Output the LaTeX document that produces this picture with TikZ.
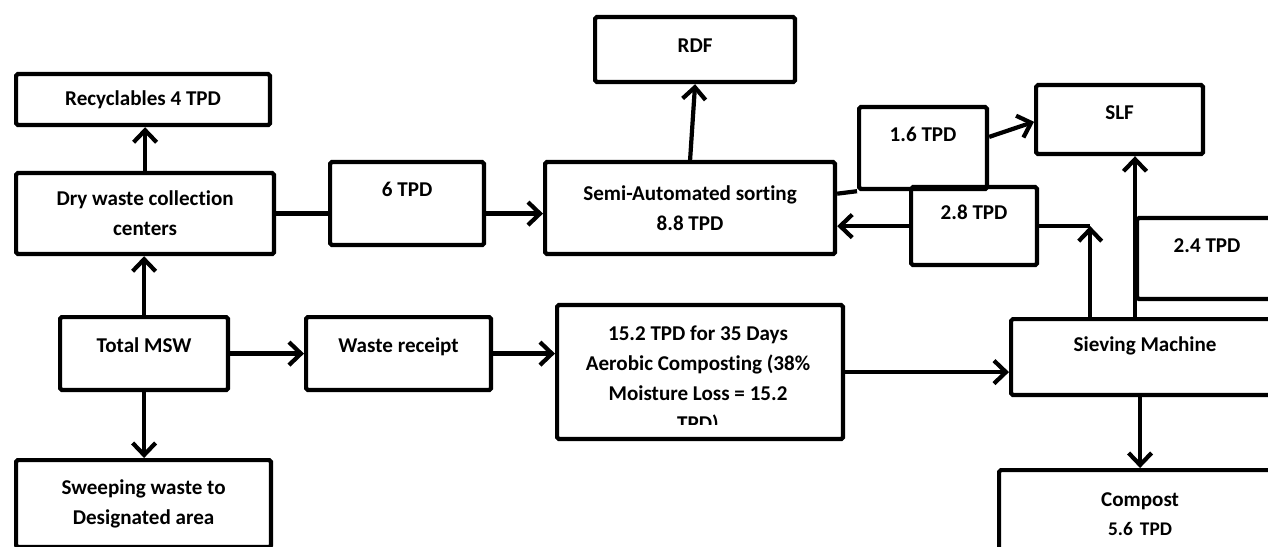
\documentclass[tikz,border=0pt]{standalone}
\usepackage{fontspec}
\setmainfont{Carlito}[Ligatures=NoCommon]
\usetikzlibrary{arrows.meta,calc}

\tikzset{
  box/.style={draw, line width=2.4pt, rounded corners=1pt, inner sep=0pt,
    anchor=north west, align=center, font=\fontsize{12}{17}\selectfont\bfseries},
  arr/.style={line width=2.4pt, -{Straight Barb[length=0.24cm,width=0.46cm]}},
  link/.style={line width=2.4pt}
}

\begin{document}
\begin{tikzpicture}[x=0.02cm,y=-0.02cm]
\clip (0,0) rectangle (1268,547);
% left column
\node[box, minimum width=5.08cm, minimum height=1.02cm] (rec) at (14,72) {Recyclables 4 TPD};
\node[box, minimum width=5.16cm, minimum height=1.62cm] (dry) at (14,171) {Dry waste collection\\centers};
\node[box, minimum width=3.36cm, text height=0.70cm, text depth=0.76cm] (tot) at (58,315) {Total MSW};
\node[box, minimum width=5.10cm, minimum height=1.74cm] (sweep) at (14,458) {Sweeping waste to\\Designated area};

% middle
\node[box, minimum width=3.08cm, text height=0.68cm, text depth=0.98cm] (six) at (328,160) {6 TPD};
\node[box, minimum width=3.70cm, text height=0.70cm, text depth=0.76cm] (wr) at (304,315) {Waste receipt};
\node[box, minimum width=5.8cm, minimum height=1.84cm] (semi) at (543,160) {Semi-Automated sorting\\8.8 TPD};
\node[box, minimum width=4cm, text height=0.70cm, text depth=0.60cm] (rdf) at (593,15) {RDF};
\node[box, minimum width=5.72cm, minimum height=2.68cm] (comp15) at (555,303) {};
\begin{scope}
\clip (560,308) rectangle (836,424);
\node[box, draw=none, anchor=north] (comp15txt) at (698,324) {15.2 TPD for 35 Days\\Aerobic Composting (38\%\\Moisture Loss = 15.2\\TPD)};
\end{scope}

% right
\node[box, minimum width=2.56cm, text height=0.68cm, text depth=0.96cm] (one6) at (857,105) {1.6 TPD};
\node[box, minimum width=3.34cm, text height=0.68cm, text depth=0.70cm] (slf) at (1034,83) {SLF};
\node[box, minimum width=2.52cm, text height=0.64cm, text depth=0.92cm] (two8) at (909,185) {2.8 TPD};
\node[box, minimum width=2.80cm, text height=0.68cm, text depth=0.94cm] (two4) at (1135,216) {2.4 TPD};
\node[box, minimum width=5.36cm, text height=0.64cm, text depth=0.88cm] (sieve) at (1009,317) {Sieving Machine};
\node[box, text width=5.64cm, text height=0.72cm, text depth=1.28cm] (compost) at (997,468) {Compost\\{\fontsize{11}{16}\selectfont 5.6 TPD}};

% connectors
\draw[arr] (dry.north) -- (dry.north |- rec.south);
\draw[arr] (tot.north) -- (tot.north |- dry.south);
\draw[arr] (tot.south) -- (tot.south |- sweep.north);
\draw[arr] (tot.east) -- (tot.east -| wr.west);
\draw[arr] (wr.east) -- (wr.east -| comp15.west);
\draw[arr] (comp15.east) -- (comp15.east -| sieve.west);
\draw[arr] (compost.north |- sieve.south) -- (compost.north);
\draw[link] (dry.east) -- (dry.east -| six.west);
\draw[arr] (dry.east -| six.east) -- (dry.east -| semi.west);
\draw[arr] (semi.north) -- (rdf.south);
\draw[link] ($(semi.north east)!0.35!(semi.south east)$) -- (one6.south west);
\draw[arr] ($(one6.north east)!0.37!(one6.south east)$) -- ($(slf.north west)!0.53!(slf.south west)$);
\draw[arr] (two8.west) -- (two8.west -| semi.east);
\coordinate (bend) at ($(two8.east)+(51,0)$);
\draw[link] (two8.east) -- (bend);
\draw[arr] (sieve.north -| bend) -- (bend);
\draw[arr] (sieve.north -| two4.west) -- (two4.west |- slf.south);
\end{tikzpicture}
\end{document}
